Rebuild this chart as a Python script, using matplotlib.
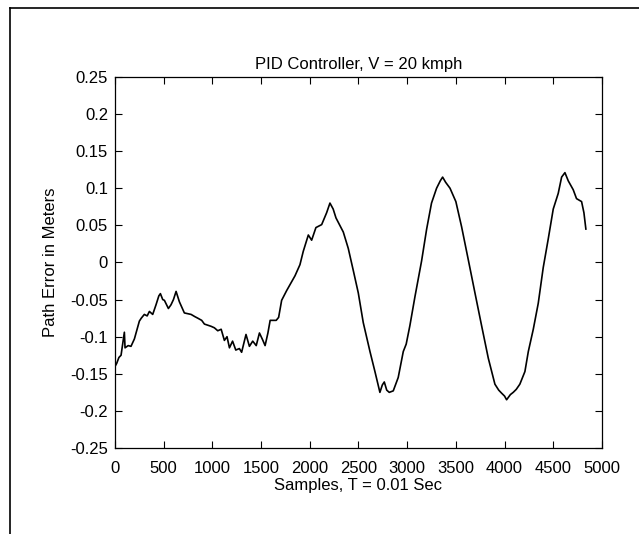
import matplotlib
matplotlib.use('Agg')
import matplotlib.pyplot as plt
from matplotlib.lines import Line2D

# values
samples = [0, 17, 40, 62, 96, 103, 135, 164, 199, 250, 270, 301, 330, 353, 387, 421, 450,
           466, 490, 507, 548, 575, 600, 627, 661, 712, 781, 820, 849, 890, 918, 986, 1020,
           1055, 1090, 1123, 1150, 1175, 1207, 1240, 1277, 1300, 1345, 1380, 1414, 1450,
           1483, 1515, 1541, 1570, 1593, 1655, 1680, 1711, 1762, 1848, 1899, 1933, 1985,
           2019, 2063, 2122, 2173, 2207, 2240, 2269, 2344, 2395, 2447, 2498, 2549, 2618,
           2669, 2720, 2745, 2765, 2790, 2816, 2857, 2908, 2960, 2990, 3028, 3080, 3148,
           3200, 3250, 3302, 3340, 3364, 3395, 3440, 3500, 3559, 3627, 3696, 3764, 3833,
           3901, 3940, 3969, 4000, 4021, 4060, 4089, 4120, 4157, 4209, 4244, 4295, 4346,
           4397, 4449, 4500, 4551, 4586, 4620, 4654, 4705, 4739, 4791, 4815, 4835]
error = [-0.140, -0.136, -0.128, -0.125, -0.094, -0.115, -0.112, -0.113, -0.103, -0.079,
         -0.075, -0.070, -0.072, -0.066, -0.070, -0.057, -0.045, -0.042, -0.050, -0.051,
         -0.062, -0.057, -0.050, -0.039, -0.053, -0.068, -0.070, -0.073, -0.075, -0.078,
         -0.083, -0.086, -0.088, -0.092, -0.090, -0.105, -0.100, -0.115, -0.106, -0.118,
         -0.116, -0.121, -0.097, -0.113, -0.106, -0.112, -0.095, -0.104, -0.112, -0.095,
         -0.078, -0.078, -0.074, -0.051, -0.038, -0.018, -0.003, 0.015, 0.037, 0.030,
         0.047, 0.051, 0.067, 0.080, 0.072, 0.060, 0.041, 0.019, -0.011, -0.041, -0.081,
         -0.120, -0.147, -0.175, -0.165, -0.161, -0.172, -0.175, -0.173, -0.155, -0.120,
         -0.110, -0.085, -0.046, 0.002, 0.045, 0.080, 0.100, 0.110, 0.115, 0.108, 0.100,
         0.082, 0.048, 0.004, -0.041, -0.085, -0.129, -0.164, -0.172, -0.176, -0.180,
         -0.185, -0.178, -0.175, -0.171, -0.164, -0.147, -0.120, -0.090, -0.055, -0.007,
         0.032, 0.072, 0.093, 0.115, 0.121, 0.110, 0.098, 0.086, 0.082, 0.067, 0.045]

xticks = [0, 500, 1000, 1500, 2000, 2500, 3000, 3500, 4000, 4500, 5000]
yticks = [0.25, 0.2, 0.15, 0.1, 0.05, 0, -0.05, -0.1, -0.15, -0.2, -0.25]
ylabels = ['0.25', '0.2', '0.15', '0.1', '0.05', '0', '-0.05', '-0.1', '-0.15', '-0.2', '-0.25']

plt.rcParams['font.family'] = ['Liberation Sans', 'DejaVu Sans']

fig = plt.figure(figsize=(6.39, 5.34), dpi=100)
ax = fig.add_axes([0.18, 0.161, 0.762, 0.695])
ax.plot(samples, error, color='black', lw=1.2)

ax.set_xlim(0, 5000)
ax.set_ylim(-0.25, 0.25)
ax.set_xticks(xticks)
ax.set_xticklabels([str(t) for t in xticks])
ax.set_yticks(yticks)
ax.set_yticklabels(ylabels)
ax.tick_params(direction='in', top=True, right=True, length=5, width=0.8, labelsize=12)
ax.tick_params(axis='y', pad=5)
ax.tick_params(axis='x', pad=9)
for s in ax.spines.values():
    s.set_linewidth(0.9)

ax.set_title('PID Controller, V = 20 kmph', fontsize=12, pad=6)
ax.set_xlabel('Samples, T = 0.01 Sec', fontsize=12, labelpad=2)
ax.set_ylabel('Path Error in Meters', fontsize=12, labelpad=9)

# border of the scanned figure
fig.add_artist(Line2D([10 / 639, 10 / 639], [0, 1 - 8 / 534], color='black', lw=1.2))
fig.add_artist(Line2D([10 / 639, 1], [1 - 8 / 534, 1 - 8 / 534], color='black', lw=1.2))

fig.savefig('out.png', dpi=100)
